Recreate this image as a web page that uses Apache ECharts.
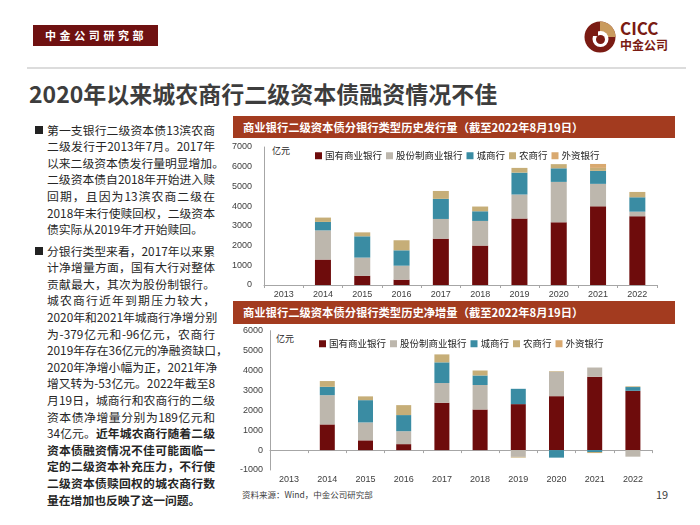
<!DOCTYPE html>
<html><head><meta charset="utf-8">
<script src="https://cdn.jsdelivr.net/npm/echarts@6/dist/echarts.min.js"></script>
<style>
html,body{margin:0;padding:0;background:#fff;}
#page{position:relative;width:700px;height:525px;overflow:hidden;font-family:"Noto Sans CJK SC","Noto Sans",sans-serif;}
.abs{position:absolute;white-space:nowrap;}
#hdr{left:33px;top:25px;width:125px;height:21px;background:#6f1111;color:#fff;font-size:11px;font-weight:bold;line-height:21px;letter-spacing:3.6px;text-indent:12px;}
#sep{left:27px;top:67px;width:659px;height:2px;background:#dcdcdc;}
#title{left:29px;top:78px;font-size:23px;font-weight:bold;color:#3d3d3d;line-height:30px;}
.banner{left:233px;width:442px;background:#a33b1f;color:#fff;font-size:11.3px;font-weight:bold;text-indent:10px;}
.para{position:absolute;left:47px;font-size:11.8px;color:#262626;line-height:16.6px;}
.para div{width:168px;text-align:justify;text-align-last:justify;white-space:nowrap;}
.para div.last{text-align-last:left;}
.bul{position:absolute;left:35px;width:8px;height:8px;background:#222;}
.unit{font-size:9px;color:#262626;}
</style></head>
<body><div id="page">
<div id="hdr" class="abs">中金公司研究部</div>
<div id="logo" class="abs" style="left:584px;top:21px;">
<svg width="32" height="32" viewBox="0 0 32 32">
<circle cx="16" cy="16" r="15.5" fill="#7a1b13"/>
<path d="M16 0.5 A15.5 15.5 0 0 1 31.5 16 L16 16 Z" fill="#c99b5e"/>
<circle cx="16.5" cy="18" r="8" fill="#fff"/>
<circle cx="16.5" cy="18.5" r="4.5" fill="#7a1b13"/>
<rect x="8" y="6" width="6" height="9" fill="#7a1b13"/>
</svg></div>
<div class="abs" style="left:620px;top:18px;font-size:17px;font-weight:bold;color:#7a1b13;line-height:20px;">CICC</div>
<div class="abs" style="left:620px;top:37px;font-size:12px;font-weight:bold;color:#7a1b13;line-height:15px;">中金公司</div>
<div id="sep" class="abs"></div>
<div id="title" class="abs">2020年以来城农商行二级资本债融资情况不佳</div>

<div class="bul" style="top:126px;"></div>
<div class="para" style="top:121.7px;">
<div>第一支银行二级资本债13滨农商</div>
<div>二级发行于2013年7月。2017年</div>
<div>以来二级资本债发行量明显增加。</div>
<div>二级资本债自2018年开始进入赎</div>
<div>回期，且因为13滨农商二级在</div>
<div>2018年末行使赎回权，二级资本</div>
<div class="last">债实际从2019年才开始赎回。</div>
</div>
<div class="bul" style="top:247px;"></div>
<div class="para" style="top:242.7px;">
<div>分银行类型来看，2017年以来累</div>
<div>计净增量方面，国有大行对整体</div>
<div>贡献最大，其次为股份制银行。</div>
<div>城农商行近年到期压力较大，</div>
<div>2020年和2021年城商行净增分别</div>
<div>为-379亿元和-96亿元，农商行</div>
<div>2019年存在36亿元的净融资缺口，</div>
<div>2020年净增小幅为正，2021年净</div>
<div>增又转为-53亿元。2022年截至8</div>
<div>月19日，城商行和农商行的二级</div>
<div>资本债净增量分别为189亿元和</div>
<div>34亿元。<b>近年城农商行随着二级</b></div>
<div><b>资本债融资情况不佳可能面临一</b></div>
<div><b>定的二级资本补充压力，不行使</b></div>
<div><b>二级资本债赎回权的城农商行数</b></div>
<div class="last"><b>量在增加也反映了这一问题。</b></div>
</div>

<div class="abs banner" style="top:116px;height:22px;line-height:22px;">商业银行二级资本债分银行类型历史发行量（截至2022年8月19日）</div>
<div class="abs banner" style="top:301px;height:23px;line-height:23px;">商业银行二级资本债分银行类型历史净增量（截至2022年8月19日）</div>
<div class="abs unit" style="left:272px;top:144px;">亿元</div>
<div class="abs unit" style="left:276px;top:332px;">亿元</div>
<div class="abs" style="left:242px;top:488px;font-size:8.5px;color:#404040;">资料来源：Wind，中金公司研究部</div>
<div class="abs" style="left:656px;top:486px;font-size:11px;color:#404040;">19</div>
<div id="chart" style="position:absolute;left:0;top:0;width:700px;height:525px;"></div>
</div>
<script>
var years = ['2013','2014','2015','2016','2017','2018','2019','2020','2021','2022'];
var names = ['国有商业银行','股份制商业银行','城商行','农商行','外资银行'];
var colors = ['#6e0c0c','#bdb7ad','#3a8ca3','#c6ae78','#d9a96f'];
// 发行量 (亿元)
var issueState   = [0,1290,470,270,2350,2000,3370,3180,3990,3490];
var issueJoint   = [0,1480,920,710,1000,1250,1220,2050,1140,230];
var issueCity    = [0,430,1080,780,1020,490,1110,690,660,730];
var issueRural   = [0,220,200,510,400,240,240,210,150,270];
var issueForeign = [0,0,0,0,0,0,0,0,200,0];
// 净增量 (亿元)
var netState   = [0,1290,490,300,2380,2040,2310,2710,3690,2980];
var netJoint   = [0,1470,900,650,990,1230,-340,1230,460,-330];
var netCity    = [0,420,1120,810,1040,480,770,-379,-96,189];
var netRural   = [0,290,190,500,400,250,-36,30,-53,34];
var netForeign = [0,0,0,0,0,0,0,0,0,0];

var issueData = [issueState, issueJoint, issueCity, issueRural, issueForeign];
var netData = [netState, netJoint, netCity, netRural, netForeign];

var axisCol = '#a6a6a6', lblCol = '#404040', ff = '"Liberation Sans", Arial, sans-serif';
var plain = function(v){ return String(v); };
var series = [];
names.forEach(function(n,i){
  series.push({name:n,type:'bar',stack:'a',xAxisIndex:0,yAxisIndex:0,barWidth:16,
    itemStyle:{color:colors[i]},data:issueData[i]});
});
names.forEach(function(n,i){
  series.push({name:n,type:'bar',stack:'b',xAxisIndex:1,yAxisIndex:1,barWidth:15,
    itemStyle:{color:colors[i]},data:netData[i]});
});
var legendBase = {icon:'rect',itemWidth:7,itemHeight:7,itemGap:4,
  textStyle:{fontSize:9.5,color:'#262626',fontFamily:'"Noto Sans CJK SC", sans-serif',padding:[0,0,0,-2]},data:names};
var chart = echarts.init(document.getElementById('chart'));
chart.setOption({
  animation:false,
  color:colors,
  legend:[Object.assign({left:310,top:146},legendBase),Object.assign({left:314,top:334},legendBase)],
  grid:[{left:264,top:147,width:393,height:138},{left:270,top:330.7,width:382,height:139.3}],
  xAxis:[
    {type:'category',gridIndex:0,data:years,axisLine:{lineStyle:{color:axisCol}},
     axisTick:{show:true,length:3,lineStyle:{color:axisCol}},
     axisLabel:{fontSize:9,color:lblCol,margin:5,fontFamily:ff}},
    {type:'category',gridIndex:1,data:years,axisLine:{onZero:true,lineStyle:{color:axisCol}},
     axisTick:{show:true,length:3,lineStyle:{color:axisCol}},axisLabel:{show:false}},
    {type:'category',gridIndex:1,data:years,position:'bottom',axisLine:{show:false,onZero:false},
     axisTick:{show:false},axisLabel:{fontSize:9,color:lblCol,margin:5,fontFamily:ff}}
  ],
  yAxis:[
    {type:'value',gridIndex:0,min:0,max:7000,interval:1000,splitLine:{show:false},
     axisLine:{show:true,lineStyle:{color:axisCol}},axisTick:{show:false},
     axisLabel:{fontSize:9,color:lblCol,margin:12,fontFamily:ff,formatter:plain}},
    {type:'value',gridIndex:1,min:-1000,max:6000,interval:1000,splitLine:{show:false},
     axisLine:{show:true,lineStyle:{color:axisCol}},axisTick:{show:false},
     axisLabel:{fontSize:9,color:lblCol,margin:7,fontFamily:ff,formatter:plain}}
  ],
  series:series
});
</script>
</body></html>
